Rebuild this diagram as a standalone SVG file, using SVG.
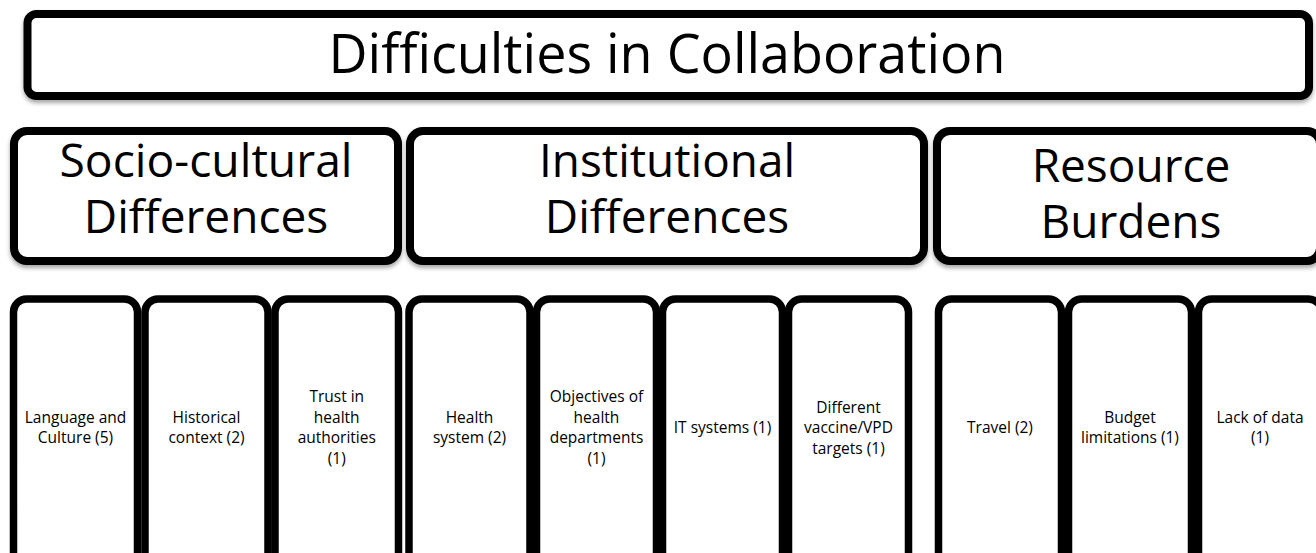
<svg xmlns="http://www.w3.org/2000/svg" width="1316" height="553" viewBox="0 0 1316 553">
  <defs>
    <filter id="sh" x="-5%" y="-10%" width="110%" height="130%">
      <feDropShadow dx="0" dy="3" stdDeviation="2.2" flood-color="#000" flood-opacity="0.35"/>
    </filter>
    <style>
      .box { fill: #ffffff; stroke: #000000; stroke-width: 8; filter: url(#sh); }
      .cell { fill: #ffffff; stroke: #000000; stroke-width: 7.5; }
      text { font-family: "Open Sans", "Noto Sans", sans-serif; fill: #000000; text-anchor: middle; }
      .t0 { font-size: 54px; }
      .t1 { font-size: 46px; }
      .t2 { font-size: 15.5px; }
    </style>
  </defs>
  <rect width="1316" height="553" fill="#ffffff"/>

  <g id="title">
    <rect class="box" x="27.5" y="14" width="1281.5" height="82" rx="9"/>
    <text class="t0" x="667" y="73" textLength="677" lengthAdjust="spacingAndGlyphs">Difficulties in Collaboration</text>
  </g>

  <g id="socio-cultural">
    <rect class="box" x="14" y="131" width="384" height="130" rx="13"/>
    <text class="t1" x="206" y="177" textLength="293" lengthAdjust="spacingAndGlyphs">Socio-cultural</text>
    <text class="t1" x="206" y="233">Differences</text>
  </g>
  <g id="institutional">
    <rect class="box" x="410" y="131" width="514" height="130" rx="13"/>
    <text class="t1" x="667" y="177" textLength="256" lengthAdjust="spacingAndGlyphs">Institutional</text>
    <text class="t1" x="667" y="233">Differences</text>
  </g>
  <g id="resource">
    <rect class="box" x="937" y="131" width="383" height="130" rx="13"/>
    <text class="t1" x="1131" y="182">Resource</text>
    <text class="t1" x="1131" y="238">Burdens</text>
  </g>

  <g id="language">
    <rect class="cell" x="13.5" y="299" width="124" height="270" rx="13"/>
    <text class="t2" x="75.5" y="422.75">Language and</text>
    <text class="t2" x="75.5" y="443.25">Culture (5)</text>
  </g>
  <g id="historical">
    <rect class="cell" x="145" y="299" width="123" height="270" rx="13"/>
    <text class="t2" x="206.5" y="422.75">Historical</text>
    <text class="t2" x="206.5" y="443.25">context (2)</text>
  </g>
  <g id="trust">
    <rect class="cell" x="275" y="299" width="123.5" height="270" rx="13"/>
    <text class="t2" x="336.75" y="402.25">Trust in</text>
    <text class="t2" x="336.75" y="422.75">health</text>
    <text class="t2" x="336.75" y="443.25">authorities</text>
    <text class="t2" x="336.75" y="463.75">(1)</text>
  </g>
  <g id="health-system">
    <rect class="cell" x="409" y="299" width="121" height="270" rx="13"/>
    <text class="t2" x="469.5" y="422.75">Health</text>
    <text class="t2" x="469.5" y="443.25">system (2)</text>
  </g>
  <g id="objectives">
    <rect class="cell" x="536.5" y="299" width="120" height="270" rx="13"/>
    <text class="t2" x="596.5" y="402.25">Objectives of</text>
    <text class="t2" x="596.5" y="422.75">health</text>
    <text class="t2" x="596.5" y="443.25">departments</text>
    <text class="t2" x="596.5" y="463.75">(1)</text>
  </g>
  <g id="it-systems">
    <rect class="cell" x="662.5" y="299" width="120" height="270" rx="13"/>
    <text class="t2" x="722.5" y="433">IT systems (1)</text>
  </g>
  <g id="vaccine">
    <rect class="cell" x="788.5" y="299" width="120" height="270" rx="13"/>
    <text class="t2" x="848.5" y="412.5">Different</text>
    <text class="t2" x="848.5" y="433">vaccine/VPD</text>
    <text class="t2" x="848.5" y="453.5">targets (1)</text>
  </g>
  <g id="travel">
    <rect class="cell" x="938.5" y="299" width="123" height="270" rx="13"/>
    <text class="t2" x="1000" y="433">Travel (2)</text>
  </g>
  <g id="budget">
    <rect class="cell" x="1068.5" y="299" width="123" height="270" rx="13"/>
    <text class="t2" x="1130" y="422.75">Budget</text>
    <text class="t2" x="1130" y="443.25">limitations (1)</text>
  </g>
  <g id="lack-of-data">
    <rect class="cell" x="1198.5" y="299" width="123" height="270" rx="13"/>
    <text class="t2" x="1260" y="422.75">Lack of data</text>
    <text class="t2" x="1260" y="443.25">(1)</text>
  </g>

  <g id="connectors"/>
</svg>
